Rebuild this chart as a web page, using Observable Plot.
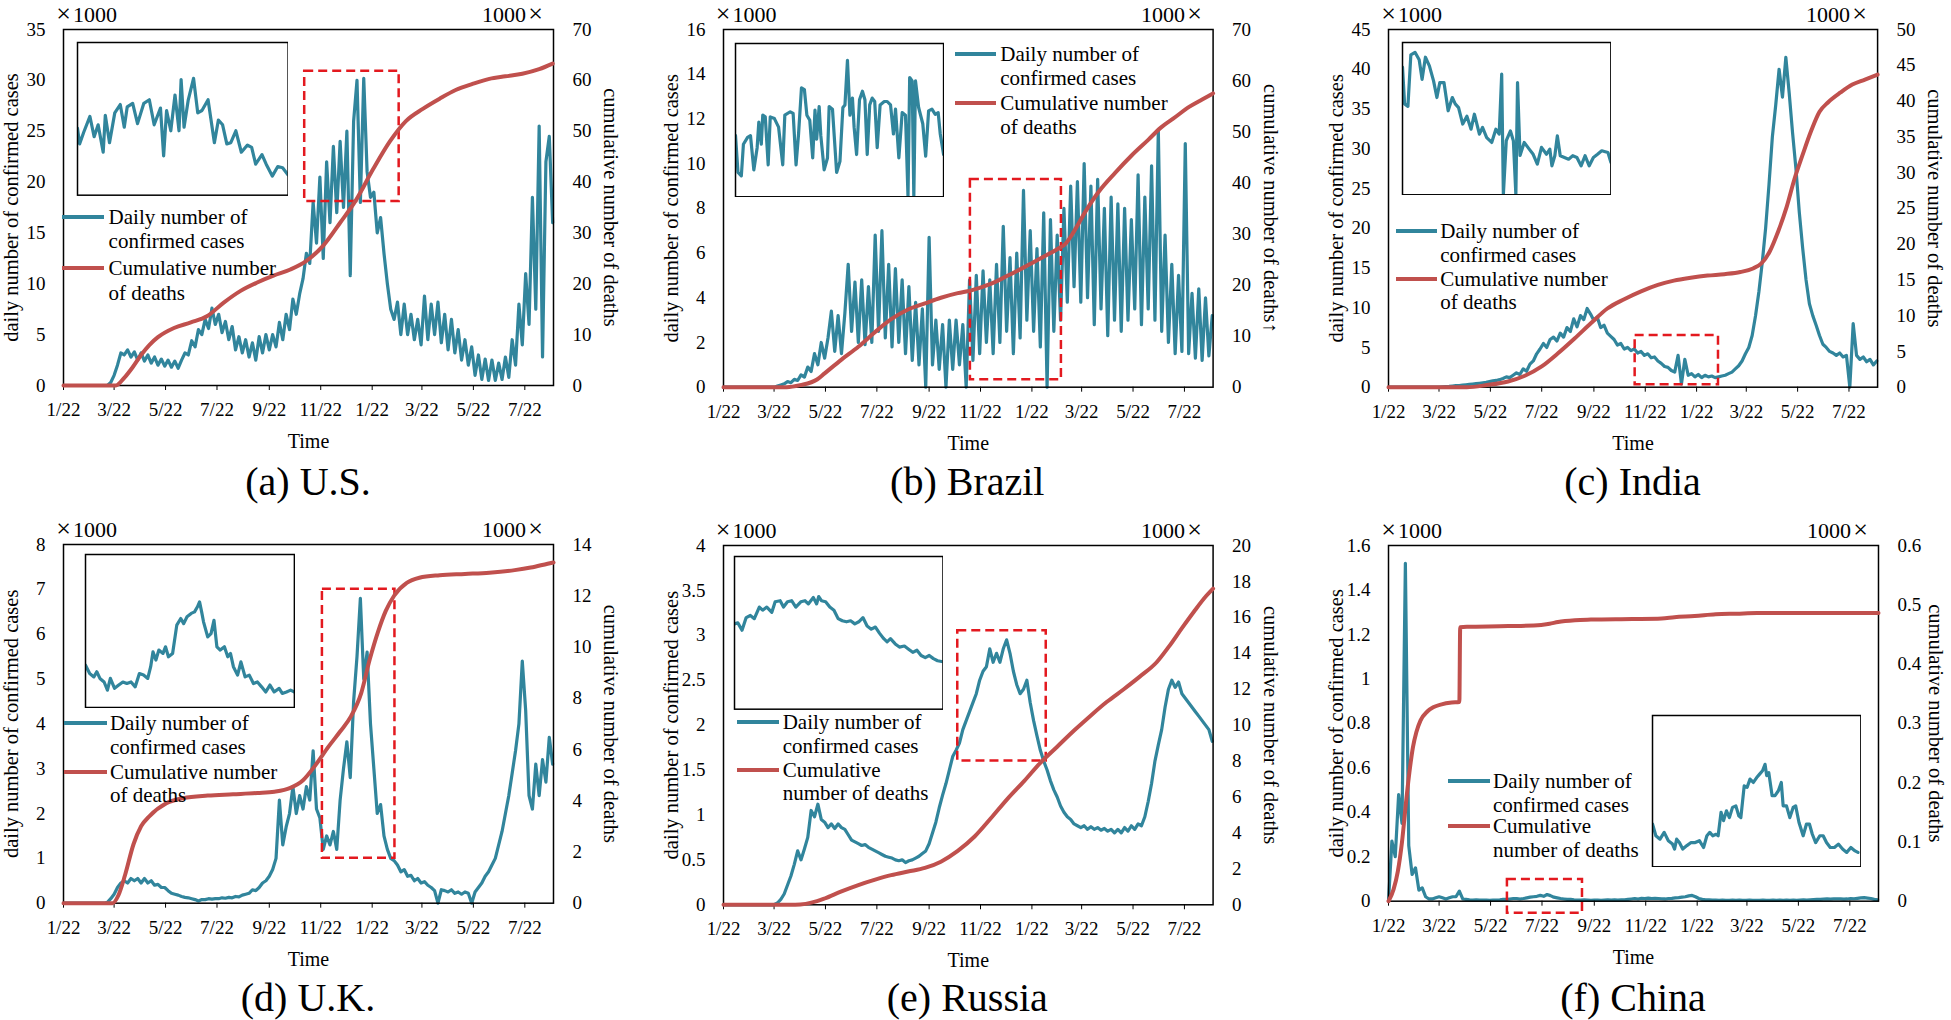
<!DOCTYPE html>
<html><head><meta charset="utf-8">
<script src="https://cdn.jsdelivr.net/npm/d3@7"></script>
<script src="https://cdn.jsdelivr.net/npm/@observablehq/plot@0.6"></script>
<style>
html,body{margin:0;padding:0;background:#fff;}
#root{position:relative;width:1951px;height:1020px;overflow:hidden;background:#fff;font-family:"Liberation Serif","Times New Roman",serif;color:#000;}
.abs{position:absolute;white-space:nowrap;}
svg{max-width:none!important;}
</style></head><body><div id="root"></div>
<script>
// ---------- shared axis data ----------
const START_UTC = Date.UTC(2020, 0, 22);      // day 0 = 2020-01-22
const END_DAY = 581;                          // 2021-08-25
const CASE_STEP = 4;                          // cases are read every 4 days from day 0
const xTickDates = ["2020-01-22","2020-03-22","2020-05-22","2020-07-22","2020-09-22","2020-11-22","2021-01-22","2021-03-22","2021-05-22","2021-07-22"];
const xTickLabels = ["1/22","3/22","5/22","7/22","9/22","11/22","1/22","3/22","5/22","7/22"];
const xLabel = "Time";
const leftLabel = "daily number of confirmed cases";
const rightLabel = "cumulative number of deaths";
const legendCases = ["Daily number of", "confirmed cases"];

// ---------- (a) U.S. ----------  (×1000)
const usCases = [
0,0,0,0,0,0,0,0,0,0,
0,0,0,0,0.3,1.0,2.0,3.2,3.0,3.5,
2.8,3.3,2.5,3.2,2.4,3.0,2.2,2.8,2.0,2.6,
1.9,2.5,1.8,2.4,1.7,2.5,3.2,3.0,4.4,3.8,
5.5,5.0,6.5,5.6,7.6,6.0,7.0,5.2,6.3,4.5,
5.8,3.5,4.8,3.2,4.5,2.8,4.2,2.5,4.8,3.2,
5.0,3.5,5.0,3.8,6.2,4.5,7.0,5.5,8.5,7.0,
9.0,10.5,13.0,12.0,18.0,14.0,20.5,12.5,22.0,16.0,
23.5,17.0,24.0,17.5,25.0,10.8,26.0,30.0,18.0,30.2,
21.0,18.5,19.0,15.0,16.5,13.0,10.0,7.5,6.5,8.2,
5.0,8.0,5.0,7.0,4.5,6.5,4.0,8.8,4.5,8.0,
5.0,8.2,4.2,7.0,3.5,6.5,3.2,5.5,2.5,4.5,
2.0,3.8,1.0,3.0,0.6,2.6,0.5,2.5,0.5,2.2,
0.6,2.8,0.8,4.5,2.0,8.0,4.0,11.0,6.0,18.5,
7.5,25.5,2.8,22.0,24.5,16.0];
const usDeaths = [[0,0],[62,0],[72,1.5],[82,3.6],[92,6],[102,8],[112,9.5],[131,11.3],[151,12.4],[170,13.6],[190,16.3],[210,18.6],[229,20.2],[249,21.6],[269,22.8],[288,24.5],[308,27.5],[328,32],[347,36.5],[367,42.5],[387,48],[406,52],[426,54.4],[446,56.4],[465,58.1],[485,59.3],[505,60.3],[524,60.8],[544,61.3],[564,62.2],[580,63.3]];
const usLeftTicks = [0,5,10,15,20,25,30,35];
const usRightTicks = [0,10,20,30,40,50,60,70];
const usZoomDays = [286, 398];
const usZoomCases = [18.1, 30.9];
const usInsetY = [18.1, 30.9];
const usInset = [[0,23.7],[1,22.4],[3,23.4],[5.9,24.7],[7.9,23.0],[9.8,24.0],[12.2,21.7],[13.2,24.8],[15.2,22.5],[17.7,25.0],[20.3,25.7],[22.2,23.8],[23.6,25.5],[26.2,25.8],[28.5,24.1],[31.5,25.8],[34.1,26.1],[36.4,24.0],[39.4,25.4],[40.9,21.4],[42.3,25.2],[44.3,23.5],[46.3,26.5],[48.2,23.5],[49.2,27.8],[50.6,23.8],[52.6,26.1],[55.1,27.9],[57.1,25.0],[59.1,25.2],[62,26.1],[65,22.5],[66.9,24.4],[68.9,24.0],[70.9,22.4],[72.8,22.5],[75.2,23.5],[77.8,21.7],[80.7,22.3],[82.7,22.1],[84.6,20.7],[87.6,21.5],[89.6,20.7],[92.5,19.7],[95.1,20.5],[97.4,20.4],[100,19.8]];

// ---------- (b) Brazil ----------
const brazilCases = [
0,0,0,0,0,0,0,0,0,0,
0,0,0,0,0,0,0.05,0.1,0.15,0.25,
0.2,0.35,0.3,0.55,0.45,0.9,0.7,1.5,1.0,2.0,
1.3,2.2,3.4,1.6,3.2,1.5,3.3,5.5,2.5,4.7,
2.0,4.8,1.9,4.5,2.0,6.8,2.5,7.0,2.2,5.5,
1.8,5.3,2.0,4.8,1.5,4.5,1.2,3.8,1.0,3.5,
0.0,6.7,1.0,3.0,0.8,2.8,0.0,3.0,0.8,3.0,
1.0,2.8,0.0,4.8,1.2,5.0,1.5,5.2,2.0,4.8,
1.5,5.5,2.0,7.2,2.5,5.8,1.5,6.0,2.2,8.8,
3.0,7.0,2.5,6.2,1.8,7.8,0.0,7.5,2.5,6.8,
3.0,8.0,3.8,9.0,4.5,9.2,3.8,10.0,4.0,9.0,
2.8,9.3,3.5,8.0,2.3,8.5,3.0,8.2,2.5,8.0,
3.0,7.5,3.5,9.5,2.8,8.5,3.5,9.9,3.0,11.5,
2.5,6.8,2.0,5.5,1.5,5.0,1.6,10.9,1.5,4.2,
1.3,4.4,1.2,4.0,1.4,3.2];
const brazilDeaths = [[0,0],[75,0],[91,0.4],[111,1.5],[120,2.7],[140,5.4],[160,7.9],[180,10.8],[199,13.3],[219,15.2],[239,16.4],[258,17.5],[278,18.4],[293,18.9],[317,20.2],[337,21.8],[357,23.5],[376,25.2],[396,27],[406,28.1],[416,30.5],[430,34.5],[445,38.2],[465,42],[484,45.3],[504,48.4],[519,50.8],[534,52.6],[553,54.9],[568,56.3],[581,57.5]];
const brazilLeftTicks = [0,2,4,6,8,10,12,14,16];
const brazilRightTicks = [0,10,20,30,40,50,60,70];
const brazilZoomDays = [293, 401];
const brazilZoomCases = [0.33, 9.29];
const brazilInsetY = [0.33, 9.29];
const brazilInset = [[0,3.9],[1.2,1.75],[2.8,1.55],[3.8,3.4],[5.8,3.8],[7.2,3.9],[8.8,1.9],[10.4,3.2],[11.2,4.7],[12.4,3.4],[13.1,5.1],[14.3,5.0],[15.7,2.2],[16.7,5.0],[18.7,4.9],[20.7,4.4],[22.7,2.2],[23.7,5.1],[26.3,5.3],[27.7,5.2],[29.1,2.2],[30.3,4.0],[31.7,6.7],[33.1,6.6],[34.3,5.1],[35.7,4.8],[37.1,2.6],[38.2,5.4],[39.0,3.7],[40.2,5.6],[41.0,3.9],[42.6,1.9],[44.2,2.6],[45.0,5.6],[46.6,5.45],[48.6,1.75],[50.2,2.4],[51.6,5.55],[52.6,5.7],[53.8,8.3],[55.0,5.1],[56.2,6.1],[57.0,4.4],[58.2,2.8],[59.6,6.0],[61.0,6.5],[62.2,6.0],[63.3,2.8],[64.5,5.7],[65.7,6.1],[66.9,5.9],[68.1,3.2],[69.5,5.7],[71.5,5.9],[72.9,5.9],[74.5,5.7],[75.9,4.0],[76.9,5.45],[78.5,2.6],[80.1,5.25],[81.7,5.1],[82.9,0.33],[83.7,7.3],[84.9,7.1],[85.7,0.33],[86.5,7.1],[88.0,5.55],[90.0,4.6],[91.4,2.7],[92.8,5.35],[94.4,5.45],[96.0,5.15],[97.4,5.25],[98.4,4.0],[100,2.8]];

// ---------- (c) India ----------
const indiaCases = [
0,0,0,0,0,0,0,0,0,0,
0,0,0,0,0,0.02,0.05,0.08,0.1,0.15,
0.2,0.2,0.25,0.3,0.35,0.4,0.45,0.5,0.55,0.6,
0.7,0.8,0.85,0.95,1.1,1.3,1.2,1.5,1.8,1.6,
2.3,2.0,2.9,3.3,4.2,4.8,5.5,5.0,6.0,6.3,
5.8,6.8,6.3,7.5,7.0,8.6,7.6,9.0,8.5,9.9,
9.2,8.4,8.8,7.5,7.8,6.8,6.4,6.0,5.3,5.5,
4.8,5.0,4.6,4.8,4.3,4.5,4.0,4.2,3.7,3.8,
3.3,3.0,2.6,2.5,2.1,1.9,4.0,0.4,3.5,1.5,
1.7,1.3,1.6,1.2,1.5,1.3,1.4,1.2,1.3,1.4,
1.5,1.7,1.9,2.3,2.7,3.3,4.2,5.0,6.5,9.0,
12.0,15.7,20.0,25.5,31.5,35.5,40.0,36.5,41.5,37.0,
32.0,27.5,22.0,17.5,13.5,10.5,9.0,7.8,6.5,5.4,
5.0,4.5,4.3,4.0,4.3,3.8,4.0,0.0,8.0,4.0,
3.5,3.8,3.2,3.5,2.8,3.3];
const indiaDeaths = [[0,0],[93,0],[117,0.3],[142,0.8],[162,1.6],[182,2.9],[201,4.7],[221,6.8],[241,9.0],[260,11.0],[280,12.3],[300,13.4],[320,14.3],[339,14.9],[359,15.3],[379,15.6],[399,15.8],[418,16.1],[433,16.6],[443,17.3],[453,19],[463,21.8],[473,25.2],[482,29],[492,32.5],[502,35.8],[512,38.5],[522,39.8],[537,41.2],[551,42.3],[566,43.0],[581,43.7]];
const indiaLeftTicks = [0,5,10,15,20,25,30,35,40,45];
const indiaRightTicks = [0,5,10,15,20,25,30,35,40,45,50];
const indiaZoomDays = [293, 392];
const indiaZoomCases = [0.3, 6.5];
const indiaInsetY = [0.3, 6.5];
const indiaInset = [[0,5.5],[1.0,4.0],[2.6,3.9],[4.0,6.0],[6.0,6.1],[8.0,5.8],[9.4,5.0],[11.0,5.9],[12.9,5.55],[14.9,4.94],[16.5,4.26],[17.9,4.87],[19.9,4.87],[21.9,3.72],[23.9,4.26],[25.3,4.0],[26.9,3.85],[28.9,3.18],[30.9,3.5],[32.9,2.97],[34.5,3.58],[36.9,2.77],[38.4,3.04],[40.4,2.63],[42.8,2.43],[44.8,2.97],[46.4,2.77],[47.6,5.21],[48.4,0.3],[49.8,2.5],[51.8,2.9],[53.2,2.5],[54.4,0.3],[55.2,4.87],[56.4,1.9],[58.4,2.43],[60.8,2.16],[62.7,1.95],[64.7,1.55],[66.7,2.23],[69.1,1.95],[70.7,2.16],[71.7,1.48],[73.1,1.89],[74.3,2.7],[75.7,1.89],[77.7,1.82],[79.7,1.75],[81.7,1.89],[83.7,1.82],[85.7,1.48],[87.6,1.89],[89.6,1.48],[91.6,1.82],[93.6,1.95],[95.6,2.09],[98.6,2.02],[100,1.62]];

// ---------- (d) U.K. ----------
const ukCases = [
0,0,0,0,0,0,0,0,0,0,
0,0,0,0.02,0.1,0.2,0.35,0.45,0.5,0.45,
0.55,0.5,0.55,0.45,0.55,0.45,0.5,0.4,0.42,0.35,
0.35,0.28,0.22,0.2,0.18,0.15,0.13,0.12,0.1,0.08,
0.05,0.08,0.08,0.1,0.09,0.1,0.1,0.12,0.11,0.13,
0.12,0.15,0.14,0.18,0.2,0.22,0.3,0.28,0.35,0.45,
0.5,0.6,0.75,1.0,2.3,1.3,1.7,2.0,2.6,2.0,
2.4,2.1,2.6,2.3,3.4,2.1,1.9,1.2,1.5,1.3,
1.6,1.2,2.3,3.0,3.6,2.8,4.5,5.5,6.8,5.0,
5.6,4.0,3.0,2.0,2.2,1.5,1.2,1.0,0.95,0.85,
0.7,0.75,0.6,0.62,0.5,0.55,0.45,0.48,0.4,0.35,
0.28,0.0,0.3,0.28,0.25,0.3,0.22,0.25,0.2,0.25,
0.22,0.0,0.25,0.35,0.45,0.6,0.7,0.85,1.0,1.3,
1.6,2.0,2.4,2.9,3.4,4.0,5.4,4.3,2.4,2.1,
3.1,2.4,3.2,2.7,3.7,3.1];
const ukDeaths = [[0,0],[58,0],[65,0.3],[73,1.1],[83,2.3],[92,3.0],[102,3.4],[122,3.9],[142,4.1],[171,4.2],[201,4.25],[230,4.3],[250,4.35],[269,4.5],[284,4.8],[299,5.4],[314,6.1],[328,6.7],[341,7.3],[353,8.2],[363,9.5],[373,10.6],[382,11.4],[392,12.0],[407,12.5],[422,12.7],[446,12.8],[476,12.85],[505,12.9],[535,13.0],[554,13.1],[574,13.25],[581,13.3]];
const ukLeftTicks = [0,1,2,3,4,5,6,7,8];
const ukRightTicks = [0,2,4,6,8,10,12,14];
const ukZoomDays = [307, 393];
const ukZoomCases = [1.0, 7.0];
const ukInsetY = [1.0, 7.0];
const ukInset = [[0,2.66],[2.0,2.33],[4.0,2.2],[5.4,2.4],[6.9,2.14],[8.9,2.0],[10.5,1.68],[11.9,2.14],[13.9,1.75],[15.9,1.88],[17.9,2.0],[19.8,1.94],[21.8,2.0],[23.8,1.81],[25.8,2.33],[27.8,2.27],[29.8,2.14],[31.2,2.6],[32.3,3.18],[33.7,2.86],[35.1,3.25],[37.1,3.12],[38.3,3.38],[39.7,2.99],[41.7,3.12],[43.7,4.23],[45.6,4.49],[47.0,4.29],[48.6,4.56],[50.6,4.69],[52.2,4.75],[53.6,4.95],[54.6,5.14],[55.6,4.75],[56.5,4.36],[58.5,3.77],[60.1,3.9],[61.5,4.42],[62.9,3.38],[64.5,3.25],[66.5,3.38],[68.1,2.99],[69.4,3.12],[70.8,2.6],[72.8,2.27],[74.4,2.79],[76.4,2.2],[78.4,2.27],[80.4,1.94],[82.3,2.0],[84.3,1.81],[86.3,1.61],[88.3,1.88],[90.3,1.61],[92.7,1.75],[94.2,1.55],[96.2,1.61],[98.2,1.68],[100,1.61]];

// ---------- (e) Russia ----------
const russiaCases = [
0,0,0,0,0,0,0,0,0,0,
0,0,0,0,0,0,0.02,0.06,0.12,0.22,
0.32,0.45,0.6,0.5,0.62,0.75,1.05,0.98,1.12,0.95,
0.92,0.86,0.9,0.85,0.9,0.86,0.84,0.78,0.72,0.7,
0.68,0.66,0.67,0.64,0.62,0.6,0.58,0.56,0.54,0.53,
0.52,0.5,0.49,0.5,0.47,0.49,0.5,0.52,0.54,0.57,
0.6,0.68,0.8,0.92,1.08,1.22,1.35,1.5,1.65,1.72,
1.8,1.95,2.05,2.15,2.25,2.35,2.5,2.6,2.65,2.85,
2.7,2.8,2.7,2.85,2.95,2.8,2.6,2.45,2.35,2.4,
2.5,2.25,2.05,1.88,1.72,1.6,1.5,1.38,1.28,1.2,
1.1,1.03,0.98,0.95,0.9,0.88,0.86,0.88,0.84,0.87,
0.84,0.86,0.83,0.85,0.82,0.84,0.8,0.84,0.8,0.86,
0.82,0.88,0.84,0.9,0.88,0.98,1.15,1.35,1.6,1.78,
1.95,2.2,2.4,2.5,2.42,2.48,2.35,2.3,2.25,2.2,
2.15,2.1,2.05,2.0,1.95,1.82];
const russiaDeaths = [[0,0],[85,0],[111,0.2],[120,0.35],[140,0.75],[160,1.1],[180,1.4],[199,1.65],[219,1.85],[239,2.05],[258,2.4],[278,3.0],[298,3.8],[317,4.8],[337,5.9],[357,6.9],[376,7.9],[396,8.8],[416,9.7],[435,10.5],[455,11.3],[475,12.0],[494,12.7],[514,13.5],[529,14.4],[544,15.4],[558,16.3],[573,17.2],[581,17.6]];
const russiaLeftTicks = [0,0.5,1,1.5,2,2.5,3,3.5,4];
const russiaRightTicks = [0,2,4,6,8,10,12,14,16,18,20];
const russiaZoomDays = [278, 383];
const russiaZoomCases = [1.6, 3.05];
const russiaInsetY = [1.6, 3.05];
const russiaInset = [[0,2.41],[1.6,2.42],[3.6,2.35],[5.6,2.47],[7.6,2.49],[9.5,2.46],[11.9,2.57],[13.5,2.54],[15.5,2.57],[17.9,2.52],[19.5,2.62],[21.9,2.63],[23.5,2.57],[25.4,2.62],[27.4,2.63],[29.4,2.57],[31.8,2.62],[33.8,2.63],[35.4,2.6],[37.8,2.66],[39.4,2.6],[40.4,2.67],[41.7,2.63],[43.7,2.62],[45.7,2.57],[47.7,2.54],[49.7,2.46],[51.7,2.44],[53.7,2.43],[55.7,2.44],[57.7,2.41],[59.6,2.43],[61.6,2.47],[63.6,2.39],[65.6,2.36],[67.6,2.38],[69.6,2.32],[71.6,2.27],[73.2,2.24],[74.8,2.27],[77.1,2.22],[79.1,2.19],[81.5,2.2],[83.5,2.17],[85.5,2.14],[87.5,2.16],[89.5,2.11],[91.5,2.09],[93.4,2.11],[95.4,2.08],[97.4,2.06],[100,2.05]];

// ---------- (f) China ----------
const chinaCases = [
0,0.27,0.2,0.48,0.35,1.52,0.25,0.12,0.15,0.05,
0.06,0.02,0.01,0.01,0.015,0.02,0.015,0.01,0.015,0.02,
0.02,0.045,0.01,0.008,0.006,0.005,0.006,0.005,0.005,0.005,
0.004,0.005,0.005,0.006,0.008,0.008,0.01,0.012,0.012,0.01,
0.012,0.015,0.018,0.02,0.022,0.026,0.022,0.03,0.025,0.018,
0.015,0.012,0.01,0.008,0.008,0.006,0.005,0.005,0.006,0.005,
0.004,0.005,0.005,0.004,0.005,0.006,0.005,0.006,0.005,0.006,
0.006,0.008,0.01,0.012,0.01,0.013,0.012,0.014,0.012,0.013,
0.012,0.011,0.01,0.012,0.013,0.015,0.016,0.018,0.02,0.024,
0.026,0.02,0.012,0.008,0.006,0.006,0.005,0.005,0.004,0.005,
0.004,0.004,0.005,0.004,0.005,0.004,0.004,0.005,0.004,0.004,
0.004,0.005,0.004,0.004,0.005,0.004,0.005,0.004,0.005,0.004,
0.005,0.004,0.005,0.006,0.005,0.006,0.007,0.008,0.008,0.009,
0.01,0.009,0.01,0.011,0.01,0.009,0.01,0.012,0.011,0.013,
0.015,0.016,0.014,0.012,0.008,0.006];
const chinaDeaths = [[0,0],[6,0.02],[11,0.05],[16,0.1],[21,0.17],[25,0.22],[29,0.26],[33,0.285],[38,0.305],[46,0.32],[53,0.327],[63,0.332],[75,0.335],[84,0.336],[85,0.462],[93,0.463],[142,0.464],[181,0.466],[191,0.468],[201,0.471],[221,0.474],[240,0.475],[289,0.476],[324,0.477],[339,0.479],[363,0.481],[388,0.484],[413,0.485],[437,0.486],[486,0.486],[581,0.486]];
const chinaLeftTicks = [0,0.2,0.4,0.6,0.8,1,1.2,1.4,1.6];
const chinaRightTicks = [0,0.1,0.2,0.3,0.4,0.5,0.6];
const chinaZoomDays = [141, 230];
const chinaZoomCases = [-0.054, 0.0975];
const chinaInsetY = [0, 0.04];
const chinaInset = [[0,0.0113],[1.6,0.0082],[3.6,0.0073],[5.6,0.0091],[7.6,0.0069],[9.6,0.006],[10.6,0.0047],[11.6,0.0073],[12.9,0.0064],[14.5,0.0047],[16.5,0.0056],[18.5,0.0064],[20.5,0.0064],[22.5,0.0069],[24.5,0.0051],[26.1,0.0082],[27.5,0.0091],[28.9,0.0082],[30.5,0.0086],[31.5,0.0082],[32.9,0.0144],[34.1,0.0122],[35.5,0.0148],[36.9,0.013],[38.4,0.0157],[40.0,0.0161],[41.4,0.0135],[42.4,0.013],[44.0,0.0214],[45.4,0.021],[46.8,0.0232],[48.4,0.0223],[50.0,0.0236],[51.4,0.0245],[52.8,0.0254],[54.0,0.0271],[54.8,0.0241],[55.8,0.0249],[57.4,0.0188],[58.8,0.0188],[60.4,0.0201],[61.8,0.0223],[62.7,0.0161],[64.3,0.0161],[65.9,0.013],[67.5,0.0157],[68.7,0.0161],[70.3,0.0117],[72.3,0.0082],[73.9,0.0113],[75.3,0.0113],[76.7,0.0086],[78.3,0.0064],[80.3,0.0082],[81.9,0.0082],[83.5,0.0064],[85.3,0.0051],[87.3,0.0051],[89.2,0.006],[91.2,0.0047],[93.2,0.0038],[95.2,0.0051],[97.2,0.0042],[98.6,0.0038]];

// ---------- styling / layout ----------
const TEAL = "#31859c", RED = "#c0504d", DASH_RED = "#e3191f";
const FONT = '"Liberation Serif","Times New Roman",serif';
const ML = 70, MR = 70, MT = 30, MB = 70;

const dayToDate = d => new Date(START_UTC + d * 86400000);
const tickDateObjs = xTickDates.map(s => new Date(s + "T00:00:00Z"));
const xFmt = d => xTickLabels[tickDateObjs.findIndex(t => +t === +d)];
const yFmt = d => d3.format("~g")(d);

const panels = [
  {caption:"(a) U.S.", frame:[63,29,553,385], cases:usCases, deaths:usDeaths, lt:usLeftTicks, rt:usRightTicks, zd:usZoomDays, zc:usZoomCases, inset:usInset, iy:usInsetY, ibox:[76.7,42.3,287.3,195], rlabel:rightLabel, deathsLegend:["Cumulative number","of deaths"], leg:{sx:62,sw:41.5,tx:108.6,ys:[216.7,240.7,268.3,292.7]}},
  {caption:"(b) Brazil", frame:[722.5,29,1212.1,386.7], cases:brazilCases, deaths:brazilDeaths, lt:brazilLeftTicks, rt:brazilRightTicks, zd:brazilZoomDays, zc:brazilZoomCases, inset:brazilInset, iy:brazilInsetY, ibox:[735.4,42.7,943.5,196], rlabel:rightLabel+"↑", deathsLegend:["Cumulative number","of deaths"], leg:{sx:954.7,sw:41.4,tx:1000.3,ys:[54.3,78.3,103.3,127.3]}},
  {caption:"(c) India", frame:[1388,29,1877.1,386.7], cases:indiaCases, deaths:indiaDeaths, lt:indiaLeftTicks, rt:indiaRightTicks, zd:indiaZoomDays, zc:indiaZoomCases, inset:indiaInset, iy:indiaInsetY, ibox:[1401.7,41.7,1610.1,194], rlabel:rightLabel, deathsLegend:["Cumulative number","of deaths"], leg:{sx:1395.5,sw:41.5,tx:1440.3,ys:[230.7,255.3,278.7,301.7]}},
  {caption:"(d) U.K.", frame:[63,544,553,902.7], cases:ukCases, deaths:ukDeaths, lt:ukLeftTicks, rt:ukRightTicks, zd:ukZoomDays, zc:ukZoomCases, inset:ukInset, iy:ukInsetY, ibox:[85,554.3,293.9,707.3], rlabel:rightLabel, deathsLegend:["Cumulative number","of deaths"], leg:{sx:64.3,sw:42.7,tx:109.9,ys:[723.3,747.3,771.7,795]}},
  {caption:"(e) Russia", frame:[722.5,545,1212.1,904.3], cases:russiaCases, deaths:russiaDeaths, lt:russiaLeftTicks, rt:russiaRightTicks, zd:russiaZoomDays, zc:russiaZoomCases, inset:russiaInset, iy:russiaInsetY, ibox:[733.7,556,942.2,708.7], rlabel:rightLabel, deathsLegend:["Cumulative","number of deaths"], leg:{sx:737,sw:42.3,tx:782.7,ys:[722.3,746,770,793.3]}},
  {caption:"(f) China", frame:[1388,545,1878,900.7], cases:chinaCases, deaths:chinaDeaths, lt:chinaLeftTicks, rt:chinaRightTicks, zd:chinaZoomDays, zc:chinaZoomCases, inset:chinaInset, iy:chinaInsetY, ibox:[1651.7,714.7,1860.1,866], rlabel:rightLabel, deathsLegend:["Cumulative","number of deaths"], leg:{sx:1448.2,sw:42,tx:1493,ys:[780.7,805,826,850]}}
];

const root = document.getElementById("root");
function addDiv(css, html) {
  const d = document.createElement("div");
  d.className = "abs";
  d.style.cssText += css;
  if (html !== undefined) d.innerHTML = html;
  root.appendChild(d);
  return d;
}

const baseStyle = {fontFamily: FONT, fontSize: "19px", color: "#000", background: "transparent", overflow: "visible", maxWidth: "none"};

for (const p of panels) {
  const [fx0, fy0, fx1, fy1] = p.frame;
  const W = fx1 - fx0 + ML + MR, H = fy1 - fy0 + MT + MB;
  const casesData = p.cases.map((v, i) => ({date: dayToDate(i * CASE_STEP), v}));
  const deathsData = p.deaths.map(([d, v]) => ({date: dayToDate(d), v}));
  const zoomRect = [{x1: dayToDate(p.zd[0]), x2: dayToDate(p.zd[1]), y1: p.zc[0], y2: p.zc[1]}];
  const common = {width: W, height: H, marginLeft: ML, marginRight: MR, marginTop: MT, marginBottom: MB, style: baseStyle};

  const main = Plot.plot({
    ...common,
    x: {type: "utc", domain: [dayToDate(0), dayToDate(END_DAY)]},
    y: {domain: [0, p.lt[p.lt.length - 1]]},
    marks: [
      Plot.line(casesData, {x: "date", y: "v", stroke: TEAL, strokeWidth: 3.2, strokeLinejoin: "round"}),
      Plot.rect(zoomRect, {x1: "x1", x2: "x2", y1: "y1", y2: "y2", fill: "none", stroke: DASH_RED, strokeWidth: 2.5, strokeDasharray: "9,5"}),
      Plot.frame({stroke: "#000", strokeWidth: 1.5}),
      Plot.axisX({ticks: tickDateObjs, tickFormat: xFmt, tickSize: 5, tickPadding: 12, fontSize: 19, label: null}),
      Plot.axisY({anchor: "left", ticks: p.lt, tickFormat: yFmt, tickSize: 0, tickPadding: 18, fontSize: 19, label: null}),
      Plot.text([leftLabel], {text: d => d, frameAnchor: "left", textAnchor: "middle", lineAnchor: "middle", dx: -52.5, rotate: -90, fontSize: 20.5}),
      Plot.text([xLabel], {text: d => d, frameAnchor: "bottom", textAnchor: "middle", lineAnchor: "middle", dy: 56, fontSize: 20})
    ]
  });
  const over = Plot.plot({
    ...common,
    x: {type: "utc", domain: [dayToDate(0), dayToDate(END_DAY)], axis: null},
    y: {domain: [0, p.rt[p.rt.length - 1]]},
    marks: [
      Plot.line(deathsData, {x: "date", y: "v", stroke: RED, strokeWidth: 4, curve: "monotone-x", strokeLinejoin: "round"}),
      Plot.axisY({anchor: "right", ticks: p.rt, tickFormat: yFmt, tickSize: 0, tickPadding: 19, fontSize: 19, label: null}),
      Plot.text([p.rlabel], {text: d => d, frameAnchor: "right", textAnchor: "middle", lineAnchor: "middle", dx: 57, rotate: 90, fontSize: 20.5})
    ]
  });
  for (const [svg, z] of [[main, 1], [over, 2]]) {
    const d = addDiv(`left:${fx0 - ML}px;top:${fy0 - MT}px;width:${W}px;height:${H}px;z-index:${z};`);
    d.appendChild(svg);
  }

  // inset
  const [ix0, iy0, ix1, iy1] = p.ibox;
  const iw = ix1 - ix0 + 2, ih = iy1 - iy0 + 2;
  const insetData = p.inset.map(([t, v]) => ({date: dayToDate(p.zd[0] + t / 100 * (p.zd[1] - p.zd[0])), v}));
  const inset = Plot.plot({
    width: iw, height: ih, margin: 1,
    style: {background: "#fff", overflow: "hidden", maxWidth: "none"},
    x: {type: "utc", domain: [dayToDate(p.zd[0]), dayToDate(p.zd[1])], axis: null},
    y: {domain: p.iy, axis: null},
    marks: [
      Plot.line(insetData, {x: "date", y: "v", stroke: TEAL, strokeWidth: 3.2, strokeLinejoin: "round", clip: true}),
      Plot.frame({stroke: "#000", strokeWidth: 1.5})
    ]
  });
  const idiv = addDiv(`left:${ix0 - 1}px;top:${iy0 - 1}px;width:${iw}px;height:${ih}px;z-index:3;`);
  idiv.appendChild(inset);

  // legend
  const L = p.leg;
  addDiv(`left:${L.sx}px;top:${L.ys[0] - 2}px;width:${L.sw}px;height:4px;background:${TEAL};z-index:4;`);
  addDiv(`left:${L.sx}px;top:${L.ys[2] - 2}px;width:${L.sw}px;height:4px;background:${RED};z-index:4;`);
  const legLines = [...legendCases, ...p.deathsLegend];
  legLines.forEach((s, k) => {
    addDiv(`left:${L.tx}px;top:${L.ys[k] - 12}px;height:24px;line-height:24px;font-size:21px;z-index:4;`, s);
  });

  // ×1000 markers
  const mt = fy0 - 26;
  const xSpan = `<span style="display:inline-block;width:19px;text-align:center;font-size:26px;line-height:22px;">×</span>`;
  addDiv(`left:${fx0 - 9}px;top:${mt}px;height:22px;line-height:22px;font-size:22px;z-index:4;`, `${xSpan}1000`);
  addDiv(`left:${fx1 - 8 - 70}px;width:70px;text-align:right;top:${mt}px;height:22px;line-height:22px;font-size:22px;z-index:4;`, `1000${xSpan}`);

  // caption
  const cy = fy0 < 300 ? 482 : 998;
  addDiv(`left:${(fx0 + fx1) / 2 - 200}px;width:400px;text-align:center;top:${cy - 22}px;height:44px;line-height:44px;font-size:40px;z-index:4;`, p.caption);
}
</script></body></html>
